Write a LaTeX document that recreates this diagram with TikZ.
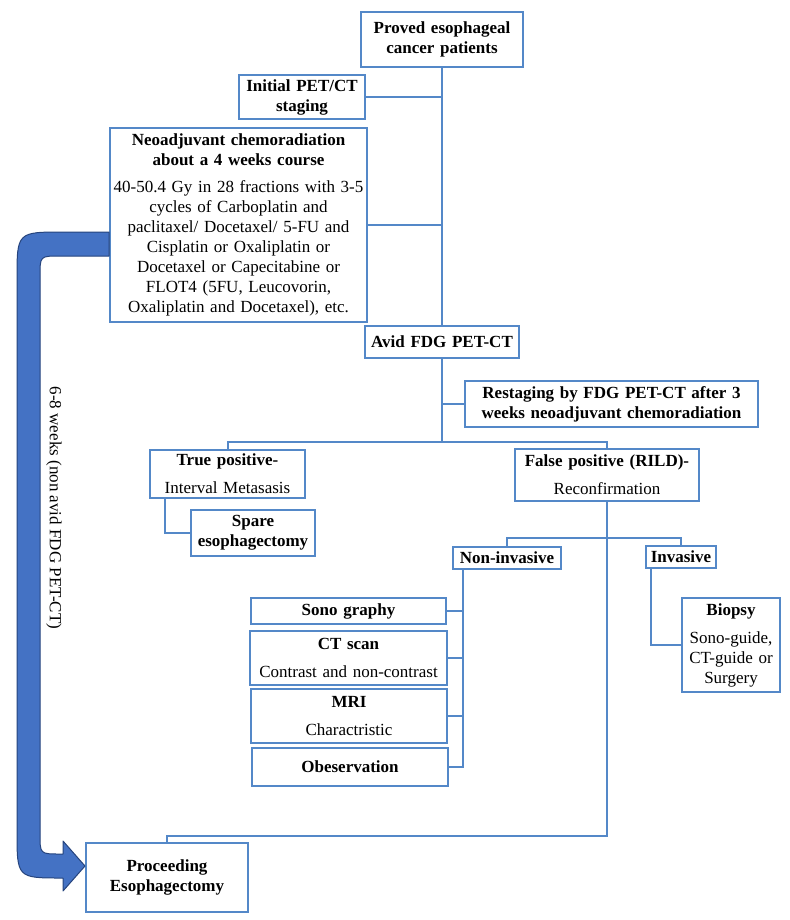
\documentclass[tikz,border=0pt]{standalone}
\usepackage{fontspec}
\setmainfont{Liberation Serif}
\usepackage{xcolor}
\definecolor{boxblue}{RGB}{84,136,200}
\definecolor{arrowblue}{RGB}{68,114,196}
\definecolor{arrowedge}{RGB}{38,68,125}
\usepackage{tikz}
\tikzset{main box/.style={rectangle,draw=boxblue,line width=2pt,fill=white,align=center,inner xsep=3pt,inner ysep=1pt,font=\fontsize{17}{20}\selectfont\bfseries},}
\tikzset{link line/.style={draw=boxblue,line width=2pt},}
\tikzset{big arrow/.style={fill=arrowblue,draw=arrowedge,line width=1pt,line join=round},}

\begin{document}
\begin{tikzpicture}[x=1pt,y=-1pt]
	\useasboundingbox (0,0) rectangle (789,920);

		\node[main box, minimum width=162pt, text width=154pt, minimum height=55pt] (proved) at (442,39.5) {Proved esophageal\\cancer patients};
	    \node[main box, minimum width=126pt, text width=120pt, minimum height=44pt] (initial) at (302,97) {Initial PET/CT\\staging};
	    \node[main box, minimum width=257pt, text width=251pt, minimum height=194pt] (neo) at (238.5,225) {Neoadjuvant chemoradiation\\about a 4 weeks course\\[7pt]\mdseries 40-50.4 Gy in 28 fractions with 3-5\\cycles of Carboplatin and\\paclitaxel/ Docetaxel/ 5-FU and\\Cisplatin or Oxaliplatin or\\Docetaxel or Capecitabine or\\FLOT4 (5FU, Leucovorin,\\Oxaliplatin and Docetaxel), etc.};
	    \node[main box, minimum width=154pt, text width=148pt, minimum height=32pt] (avid) at (442,342) {Avid FDG PET-CT};
	    \node[main box, minimum width=293pt, text width=287pt, minimum height=46pt] (restage) at (611.5,404) {Restaging by FDG PET-CT after 3\\weeks neoadjuvant chemoradiation};
	    \node[main box, minimum width=155pt, text width=149pt, minimum height=48pt] (truepos) at (227.5,474) {True positive-\\[8pt]\mdseries Interval Metasasis};
	    \node[main box, minimum width=124pt, text width=118pt, minimum height=46pt] (spare) at (253,533) {Spare\\esophagectomy};
	    \node[main box, minimum width=184pt, text width=178pt, minimum height=52pt] (falsepos) at (607,475) {False positive (RILD)-\\[8pt]\mdseries Reconfirmation};
	    \node[main box, minimum width=108pt, text width=102pt, minimum height=22pt] (noninv) at (507,558) {Non-invasive};
	    \node[main box, minimum width=70pt, text width=64pt, minimum height=22pt] (invasive) at (681,557) {Invasive};
	    \node[main box, minimum width=195pt, text width=189pt, minimum height=26pt] (sono) at (348.5,611) {Sono graphy};
	    \node[main box, minimum width=197pt, text width=191pt, minimum height=54pt] (ctscan) at (348.5,658) {CT scan\\[8pt]\mdseries Contrast and non-contrast};
	    \node[main box, minimum width=196pt, text width=190pt, minimum height=54pt] (mri) at (349,716) {MRI\\[8pt]\mdseries Charactristic};
	    \node[main box, minimum width=196pt, text width=190pt, minimum height=38pt] (obs) at (350,767) {Obeservation};
	    \node[main box, minimum width=98pt, text width=92pt, minimum height=94pt] (biopsy) at (731,645) {Biopsy\\[8pt]\mdseries Sono-guide,\\CT-guide or\\Surgery};
	    \node[main box, minimum width=162pt, text width=156pt, minimum height=69pt] (proceed) at (167,877.5) {Proceeding\\Esophagectomy};

	    % junctions of the tree
	    \coordinate (split1) at (442,442);
	    \coordinate (split2) at (607,538);
	    \coordinate (bend) at (607,836);
	    \coordinate (nvbus) at ([xshift=11pt]noninv.south west);

	    \path[link line]
	    (proved.south) -- (avid.north)
	    (initial.east) -- (initial.east -| proved.south)
	    (neo.east) -- (neo.east -| proved.south)
	    (avid.south) -- (split1)
	    (restage.west) -- (restage.west -| avid.south)
	    (truepos.north) |- (split1) -| (falsepos.north)
	    ([xshift=16pt]truepos.south west) |- (spare.west)
	    (noninv.north) |- (split2) -| (invasive.north)
	    (falsepos.south) -- (bend) -| (proceed.north)
	    (nvbus) |- (obs.east)
	    (sono.east) -- (sono.east -| nvbus)
	    (ctscan.east) -- (ctscan.east -| nvbus)
	    (mri.east) -- (mri.east -| nvbus)
	    ([xshift=6pt]invasive.south west) |- (biopsy.west);

	    % bent arrow from the chemoradiation box to surgery
	    \draw[big arrow] (neo.west |- 0,232) -- (64,232) .. controls (17,232) .. (17,279) -- (17,831) .. controls (17,878) .. (62,878) -- (63,878) -- (63,891) -- (proceed.west |- 0,866) -- (63,841) -- (63,854) -- (60,854) .. controls (40,854) .. (40,834) -- (40,276) .. controls (40,256) .. (60,256) -- (neo.west |- 0,256) -- cycle;
	    \node[rotate=-90, font=\fontsize{17}{20}\selectfont] (wait) at (54,508) {6-8 weeks (non avid FDG PET-CT)};
	\end{tikzpicture}
\end{document}
